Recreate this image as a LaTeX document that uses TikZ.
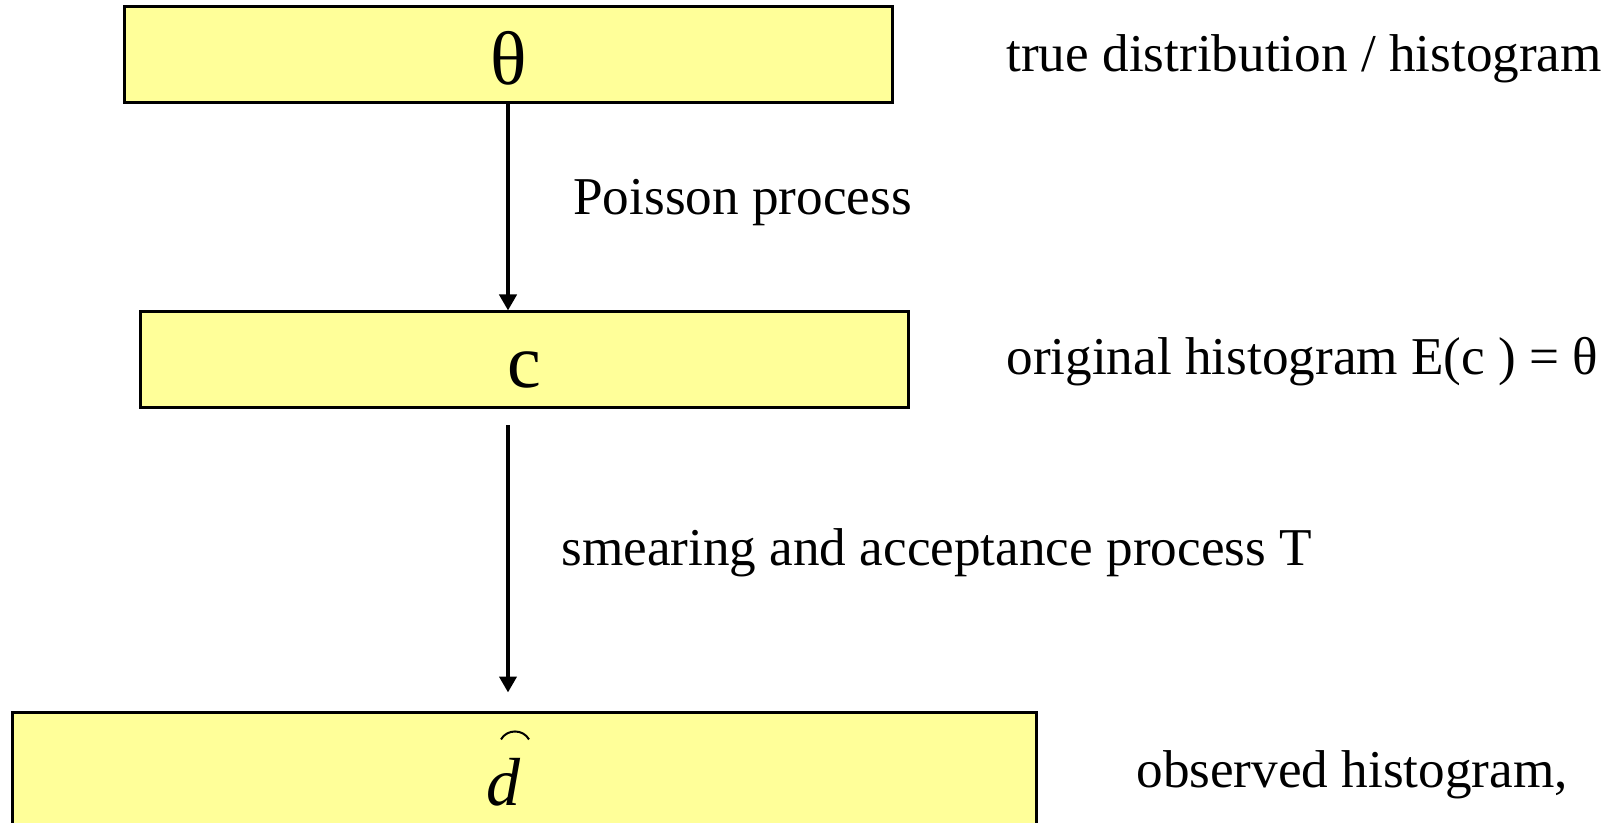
\documentclass[tikz,border=0pt]{standalone}
\usepackage{fontspec}
\setmainfont{Liberation Serif}
\usetikzlibrary{arrows.meta}
\definecolor{boxfill}{HTML}{FFFF99}
\begin{document}
\begin{tikzpicture}[x=0.5pt,y=-0.5pt,
  box/.style={draw=black, line width=1.5pt, fill=boxfill, inner sep=0pt},
  arr/.style={line width=2.4pt, -{Triangle[width=8.5pt,length=8pt]}},
  lbl/.style={anchor=base west, inner sep=0pt, font=\fontsize{26.6}{28}\selectfont},
  sym/.style={anchor=base, inner sep=0pt}]
\useasboundingbox (0,0) rectangle (1622,823);
\clip (0,0) rectangle (1622,823);
\node[box, minimum width=384pt, minimum height=48pt] (theta) at (508,55) {};
\node[box, minimum width=384pt, minimum height=48pt] (c) at (524,360) {};
\node[box, minimum width=512pt, minimum height=60pt] (d) at (524,772) {};
\node[sym, font=\fontsize{38}{40}\selectfont] (thetatxt) at (509,85) {θ};
\node[sym, font=\fontsize{38}{40}\selectfont] (ctxt) at (524,388) {c};
\node[sym, font=\fontsize{34}{36}\selectfont\itshape] (dtxt) at (503,805) {d};
\draw[line width=1pt] ([xshift=-1pt,yshift=9pt]dtxt.north) .. controls +(3pt,5.3pt) and +(-3pt,5.3pt) .. ([xshift=13pt,yshift=9pt]dtxt.north);
\draw[arr] (theta.south) -- (theta.south |- c.north);
\draw[arr, shorten <=8pt, shorten >=9pt] (theta.south |- c.south) -- (theta.south |- d.north);
\node[lbl] (l1) at (1006,72) {true distribution / histogram};
\node[lbl] (l2) at (1006,375) {original histogram E(c ) = θ};
\node[lbl] (l3) at (573,215) {Poisson process};
\node[lbl] (l4) at (561,565) {smearing and acceptance process T};
\node[lbl] (l5) at (1136,787) {observed histogram,};
\end{tikzpicture}
\end{document}
